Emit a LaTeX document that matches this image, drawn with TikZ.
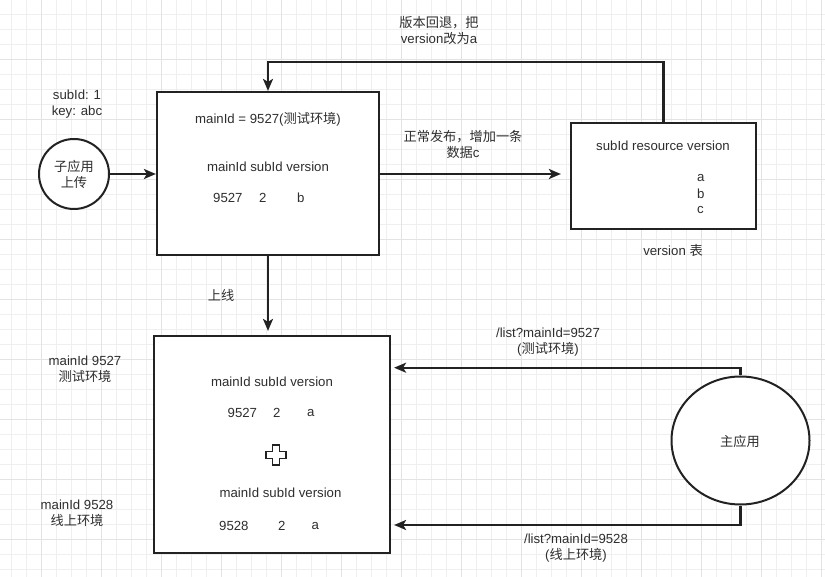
\documentclass[tikz,border=0pt]{standalone}
\usepackage{fontspec}
\setmainfont{Liberation Sans}
\newfontfamily\cjk{Noto Sans CJK SC}
\usetikzlibrary{arrows.meta,shapes.geometric}
\definecolor{ink}{HTML}{222222}
\definecolor{txt}{HTML}{2E2E2E}
\definecolor{gridminor}{HTML}{EFEFEF}
\definecolor{gridmajor}{HTML}{E3E3E3}
\tikzset{
  every node/.style={font=\fontsize{13.2}{16}\selectfont, text=txt},
  boxnode/.style={draw=ink, line width=2.2pt, rectangle, fill=white, inner sep=0pt},
  roundnode/.style={draw=ink, line width=2pt, fill=white, inner sep=0pt},
  conn/.style={draw=ink, line width=2.2pt, -{Stealth[length=12pt,width=10pt,inset=3pt]}},
  lbl/.style={align=center, inner sep=0pt},
  cell/.style={anchor=west, inner sep=0pt},
}
\begin{document}
\begin{tikzpicture}[x=1pt, y=-1pt]
  \useasboundingbox (0,0) rectangle (825,577);
  \fill[white] (0,0) rectangle (825,577);
  % background grid
  \foreach \i in {0,...,54} {
    \pgfmathsetmacro{\gx}{11.7+15*\i}
    \draw[gridminor, line width=0.9pt] (\gx,0) -- (\gx,577);
  }
  \foreach \i in {0,...,38} {
    \pgfmathsetmacro{\gy}{14.3+15*\i}
    \draw[gridminor, line width=0.9pt] (0,\gy) -- (825,\gy);
  }
  \foreach \i in {0,...,13} {
    \pgfmathsetmacro{\gx}{41.7+60*\i}
    \draw[gridmajor, line width=0.9pt] (\gx,0) -- (\gx,577);
  }
  \foreach \i in {0,...,9} {
    \pgfmathsetmacro{\gy}{59.3+60*\i}
    \draw[gridmajor, line width=0.9pt] (0,\gy) -- (825,\gy);
  }

  % shapes
  \node[boxnode, minimum width=222pt, minimum height=163pt] (cfg) at (268,173.5) {};
  \node[boxnode, minimum width=185pt, minimum height=106pt] (ver) at (663.5,176) {};
  \node[boxnode, minimum width=236pt, minimum height=217pt] (bot) at (272,444.5) {};
  \node[roundnode, circle, minimum size=70pt] (sub) at (74,174) {};
  \node[roundnode, ellipse, minimum width=138pt, minimum height=128pt] (mainapp) at (740.5,440.5) {};

  % texts inside shapes
  \node[lbl] (subtxt) at (74,174) {\cjk 子应用\\\cjk 上传};
  \node[lbl] (maintxt) at (740,441) {\cjk 主应用};

  \node[lbl] (cfgtitle) at (268,119) {mainId = 9527({\cjk 测试环境})};
  \node[lbl] (cfghead) at (268,167) {mainId subId version};
  \node[cell] (c1) at (213,198) {9527};
  \node[cell] (c2) at (259,198) {2};
  \node[cell] (c3) at (297,198) {b};

  \node[lbl] (verhead) at (663,146) {subId resource version};
  \node[cell] (va) at (697,178) {a};
  \node[cell] (vb) at (697,194) {b};
  \node[cell] (vc) at (697,210) {c};
  \node[lbl] (vername) at (673,250) {version {\cjk 表}};

  \node[lbl] (bothead1) at (272,382) {mainId subId version};
  \node[cell] (b1) at (227.5,413) {9527};
  \node[cell] (b2) at (273,413) {2};
  \node[cell] (b3) at (307,413) {a};
  \node[lbl] (bothead2) at (280.5,493) {mainId subId version};
  \node[cell] (d1) at (219,526) {9528};
  \node[cell] (d2) at (278,526) {2};
  \node[cell] (d3) at (311.5,526) {a};

  % plus sign between the two tables
  \draw[ink, line width=1.6pt, fill=white]
    (272.5,445) -- (279.5,445) -- (279.5,451.5) -- (286,451.5) -- (286,458.5)
    -- (279.5,458.5) -- (279.5,465) -- (272.5,465) -- (272.5,458.5) -- (266,458.5)
    -- (266,451.5) -- (272.5,451.5) -- cycle;

  % free labels
  \node[lbl] (subinfo) at (77,104) {subId: 1\\key: abc};
  \node[lbl] (rbtxt) at (439,31) {{\cjk 版本回退，把}\\version{\cjk 改为}a};
  \node[lbl] (pubtxt) at (463,144) {{\cjk 正常发布，增加一条}\\{\cjk 数据}c};
  \node[lbl] (onlinetxt) at (221,295) {\cjk 上线};
  \node[lbl] (env1) at (85,369) {mainId 9527\\\cjk 测试环境};
  \node[lbl] (env2) at (77,513) {mainId 9528\\\cjk 线上环境};
  \node[lbl] (q1) at (548,342) {/list?mainId=9527\\({\cjk 测试环境})};
  \node[lbl] (q2) at (576,548) {/list?mainId=9528\\({\cjk 线上环境})};

  % connectors
  \coordinate (rb) at (0,61.7);
  \coordinate (up) at (0,367.7);
  \coordinate (lo) at (0,525);
  \draw[conn] (sub.east) -- (sub.east -| cfg.west);
  \draw[conn, shorten >=9pt] (cfg.east |- sub.east) -- (ver.west |- sub.east);
  \draw[conn] (ver.north) -- (ver.north |- rb) -| (cfg.north);
  \draw[conn, shorten >=4pt] (cfg.south) -- (cfg.south |- bot.north);
  \draw[conn, shorten >=3pt] (mainapp.north) -- (mainapp.north |- up) -- (bot.east |- up);
  \draw[conn, shorten >=3pt] (mainapp.south) -- (mainapp.south |- lo) -- (bot.east |- lo);
\end{tikzpicture}
\end{document}
